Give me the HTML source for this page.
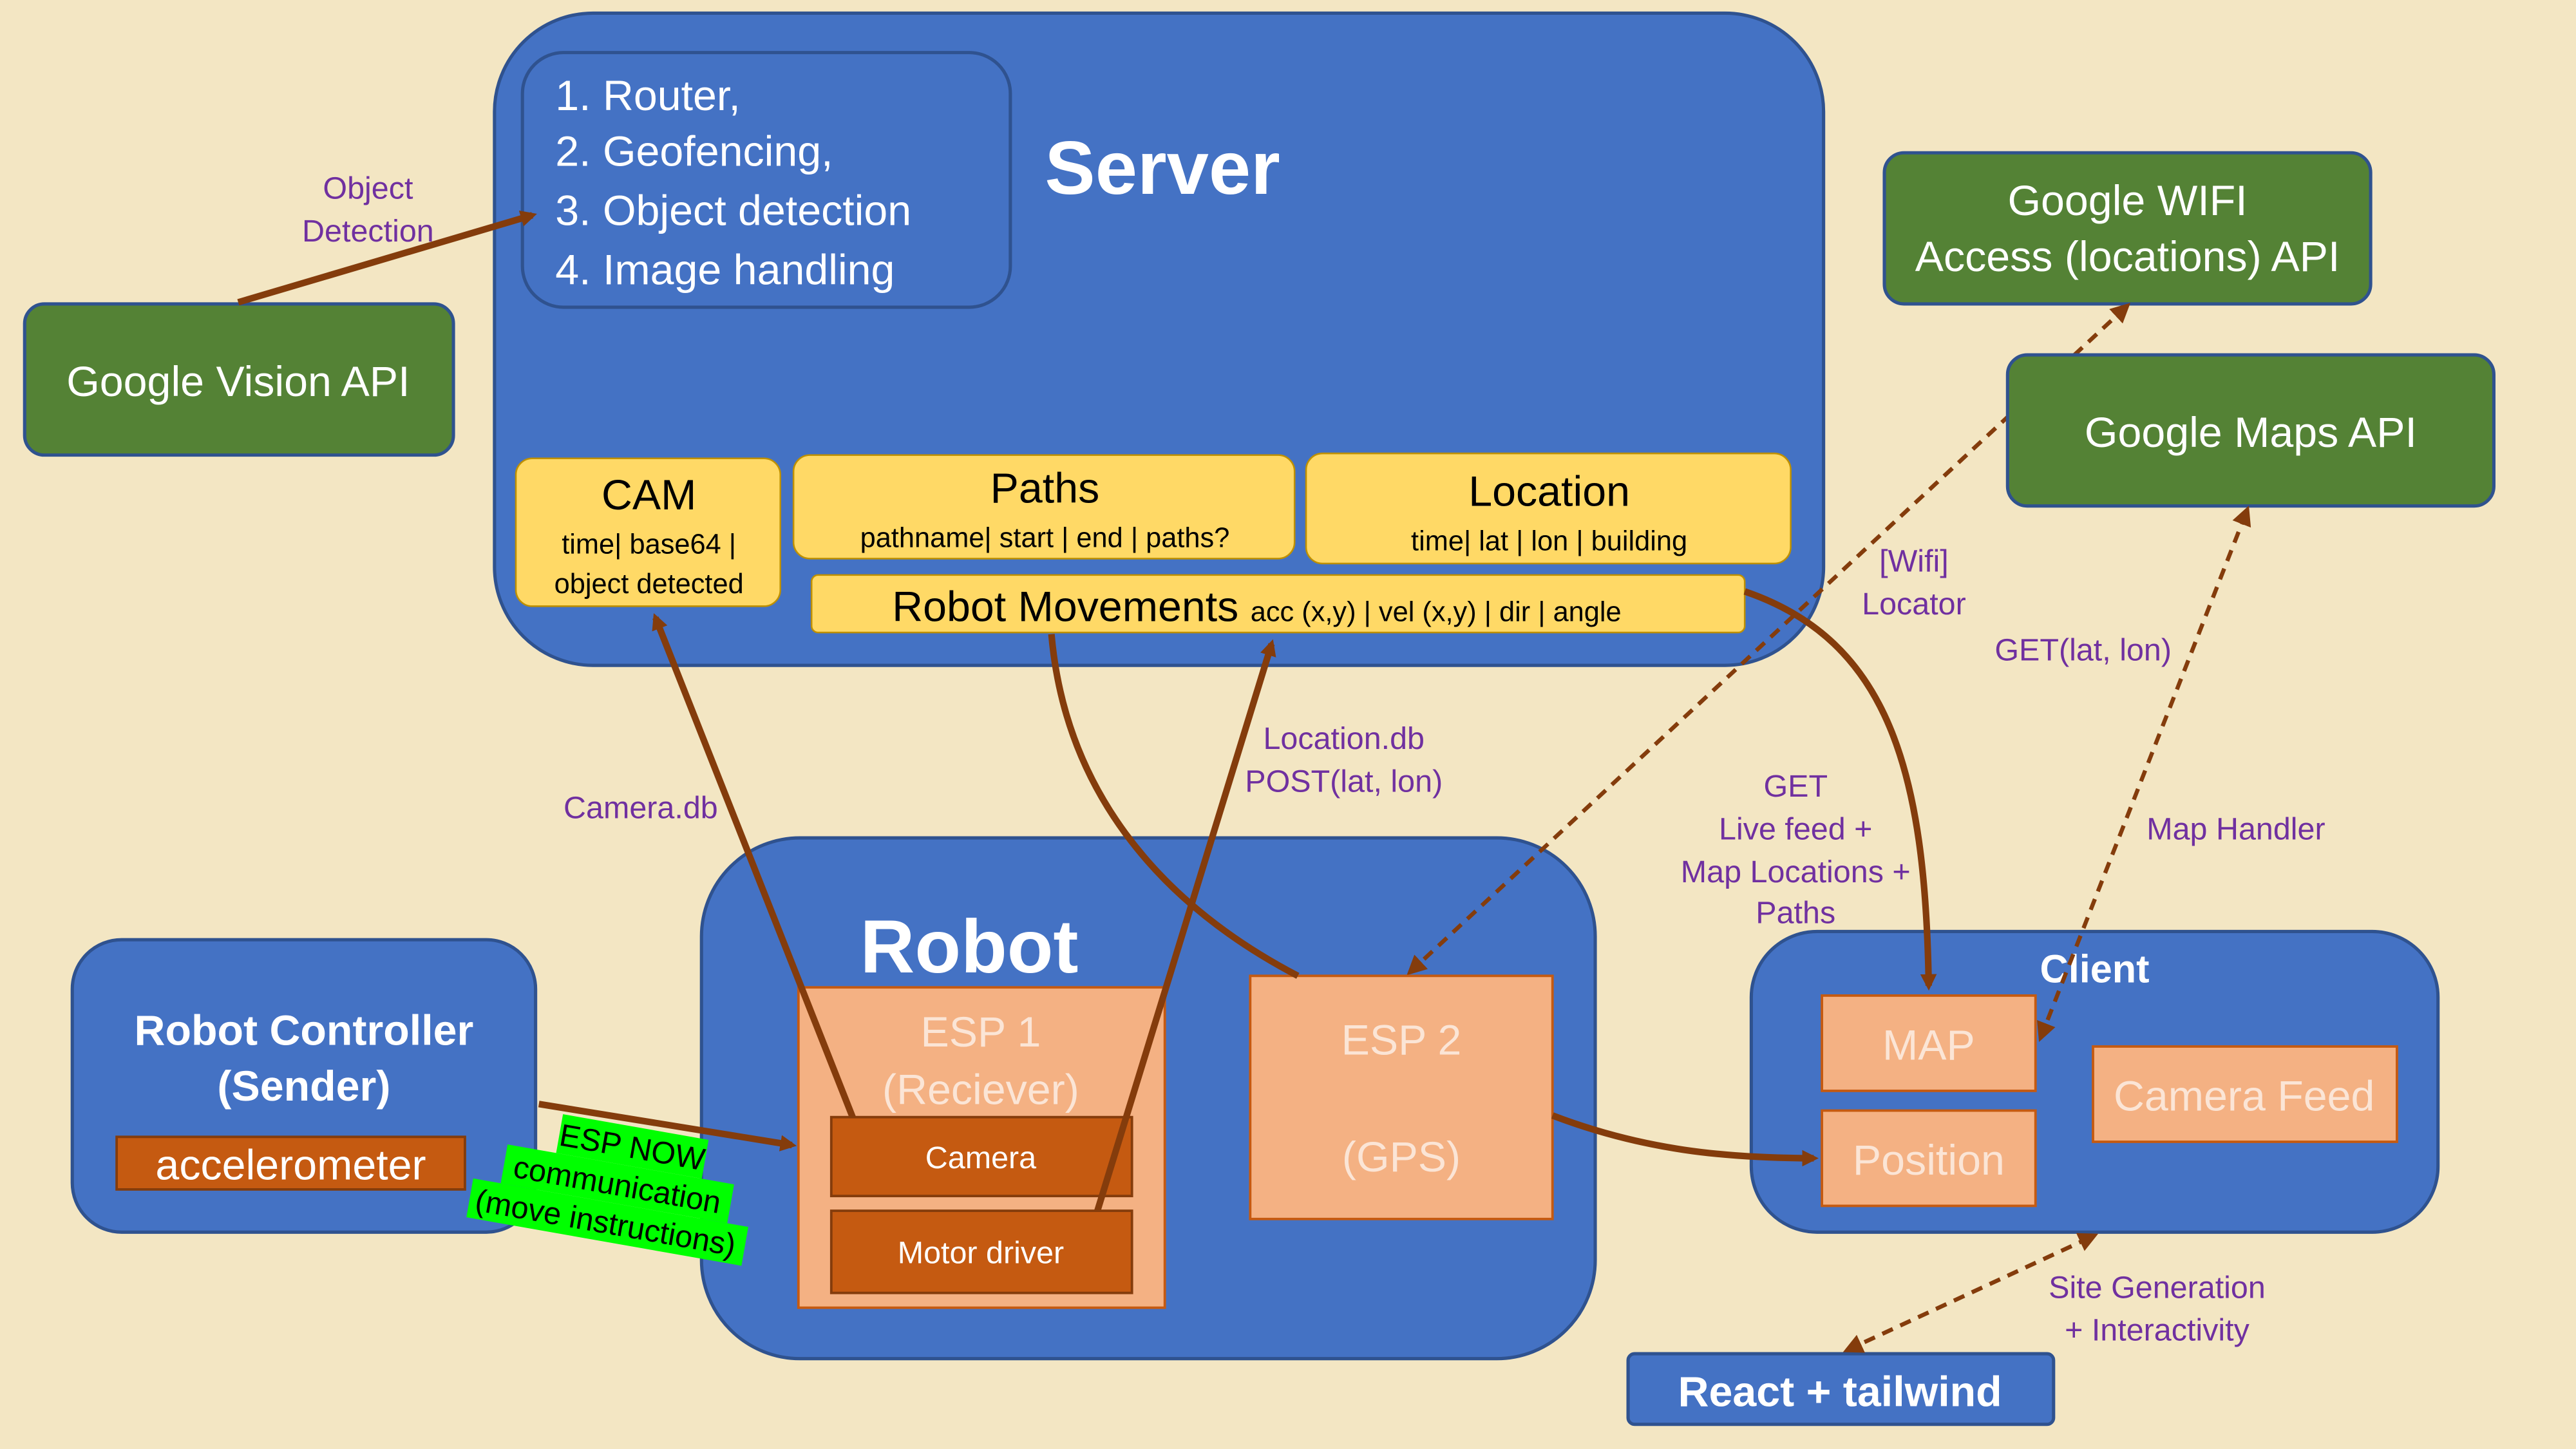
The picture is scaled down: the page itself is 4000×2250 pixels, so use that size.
<!DOCTYPE html>
<html><head><meta charset="utf-8"><style>
html,body{margin:0;padding:0;width:4000px;height:2250px;overflow:hidden;background:#f3e6c3}
svg{display:block}
text{font-family:"Liberation Sans","DejaVu Sans",sans-serif}
</style></head><body>
<svg width="4000" height="2250" viewBox="0 0 1568 882" xmlns="http://www.w3.org/2000/svg">
<defs>
<marker id="ab" markerWidth="10" markerHeight="10" refX="7" refY="5" orient="auto" markerUnits="userSpaceOnUse" viewBox="0 0 10 10"><path d="M0,0 L10,5 L0,10 z" fill="#843c0c"/></marker>
<marker id="abs" markerWidth="12" markerHeight="12" refX="8" refY="5" orient="auto-start-reverse" markerUnits="userSpaceOnUse" viewBox="0 0 10 10"><path d="M0,0 L10,5 L0,10 z" fill="#843c0c"/></marker>
</defs>
<rect width="1568" height="882" fill="#f3e6c3"/>
<g stroke="#2f528f" stroke-width="2" fill="#4472c4">
<rect x="301" y="8" width="809" height="397" rx="60"/>
<rect x="318" y="32" width="297" height="155" rx="25"/>
<rect x="427" y="510" width="544" height="317" rx="60"/>
<rect x="44" y="572" width="282" height="178" rx="30"/>
<rect x="1066" y="567" width="418" height="183" rx="40"/>
<rect x="991" y="824" width="259" height="43" rx="4"/>
</g>
<g fill="#fff" font-size="26">
<text x="338" y="67">1. Router,</text>
<text x="338" y="101">2. Geofencing,</text>
<text x="338" y="137">3. Object detection</text>
<text x="338" y="173">4. Image handling</text>
</g>
<text x="636" y="118" fill="#fff" font-size="46" font-weight="bold">Server</text>
<text x="590" y="592" fill="#fff" font-size="46" font-weight="bold" text-anchor="middle">Robot</text>
<g stroke="#2f528f" stroke-width="2" fill="#548235">
<rect x="15" y="185" width="261" height="92" rx="12"/>
<rect x="1147" y="93" width="296" height="92" rx="12"/>
</g>
<line x1="858" y1="592" x2="1295" y2="186" stroke="#843c0c" stroke-width="2.5" stroke-dasharray="7,5" marker-start="url(#abs)" marker-end="url(#abs)"/>
<rect x="1222" y="216" width="296" height="92" rx="12" fill="#548235" stroke="#2f528f" stroke-width="2"/>
<g fill="#fff" font-size="26" text-anchor="middle">
<text x="145" y="241">Google Vision API</text>
<text x="1295" y="131">Google WIFI</text>
<text x="1295" y="165">Access (locations) API</text>
<text x="1370" y="272">Google Maps API</text>
</g>
<g fill="#ffd966" stroke="#bf9000" stroke-width="1">
<rect x="314" y="279" width="161" height="90" rx="10"/>
<rect x="483" y="277" width="305" height="63" rx="10"/>
<rect x="795" y="276" width="295" height="67" rx="10"/>
<rect x="494" y="350" width="568" height="35" rx="4"/>
</g>
<g fill="#000" text-anchor="middle">
<text x="395" y="310" font-size="26">CAM</text>
<text x="395" y="337" font-size="17">time| base64 |</text>
<text x="395" y="361" font-size="17">object detected</text>
<text x="636" y="306" font-size="26">Paths</text>
<text x="636" y="333" font-size="17">pathname| start | end | paths?</text>
<text x="943" y="308" font-size="26">Location</text>
<text x="943" y="335" font-size="17">time| lat | lon | building</text>
</g>
<text x="543" y="378" font-size="26" fill="#000">Robot Movements <tspan font-size="17">acc (x,y) | vel (x,y) | dir | angle</tspan></text>
<rect x="486" y="601" width="223" height="195" fill="#f4b183" stroke="#c55a11" stroke-width="1.5"/>
<rect x="761" y="594" width="184" height="148" fill="#f4b183" stroke="#c55a11" stroke-width="1.5"/>
<g fill="#fbe5d6" font-size="26" text-anchor="middle">
<text x="597" y="637">ESP 1</text>
<text x="597" y="672">(Reciever)</text>
<text x="853" y="642">ESP 2</text>
<text x="853" y="713">(GPS)</text>
</g>
<g fill="#c55a11" stroke="#843c0c" stroke-width="1.5">
<rect x="506" y="680" width="183" height="48"/>
<rect x="506" y="737" width="183" height="50"/>
<rect x="71" y="692" width="212" height="32"/>
</g>
<g fill="#fff" text-anchor="middle">
<text x="597" y="711" font-size="19">Camera</text>
<text x="597" y="769" font-size="19">Motor driver</text>
<text x="177" y="718" font-size="26">accelerometer</text>
<text x="185" y="636" font-size="26" font-weight="bold">Robot Controller</text>
<text x="185" y="670" font-size="26" font-weight="bold">(Sender)</text>
<text x="1275" y="598" font-size="24" font-weight="bold">Client</text>
<text x="1120" y="856" font-size="26" font-weight="bold">React + tailwind</text>
</g>
<g fill="#f4b183" stroke="#c55a11" stroke-width="1.5">
<rect x="1109" y="606" width="130" height="58"/>
<rect x="1109" y="676" width="130" height="58"/>
<rect x="1274" y="637" width="185" height="58"/>
</g>
<g fill="#fbe5d6" font-size="26" text-anchor="middle">
<text x="1174" y="645">MAP</text>
<text x="1174" y="715">Position</text>
<text x="1366" y="676">Camera Feed</text>
</g>
<g stroke="#843c0c" stroke-width="4" fill="none">
<line x1="145" y1="184" x2="324" y2="131" marker-end="url(#ab)"/>
<line x1="519" y1="680" x2="399" y2="376" marker-end="url(#ab)"/>
<line x1="668" y1="737" x2="774" y2="392" marker-end="url(#ab)"/>
<path d="M640,386 C648,478 702,548 790,594"/>
<path d="M1062,360 C1150,390 1172,470 1174,600" marker-end="url(#ab)"/>
<path d="M945,679 C1000,700 1050,705 1104,705" marker-end="url(#ab)"/>
<line x1="328" y1="672" x2="482" y2="697" marker-end="url(#ab)"/>
</g>
<g stroke="#843c0c" stroke-width="2.5" fill="none" stroke-dasharray="7,5">
<line x1="1242" y1="632" x2="1368" y2="310" marker-start="url(#abs)" marker-end="url(#abs)"/>
<line x1="1124" y1="822" x2="1275" y2="752" marker-start="url(#abs)" marker-end="url(#abs)"/>
</g>
<g transform="rotate(10 372 725)">
<rect x="335" y="684" width="90" height="24" fill="#00ff00"/>
<rect x="305" y="708" width="140" height="24" fill="#00ff00"/>
<rect x="288" y="732" width="170" height="24" fill="#00ff00"/>
<g fill="#000" font-size="19" text-anchor="middle">
<text x="380" y="703">ESP NOW</text>
<text x="375" y="727">communication</text>
<text x="372" y="751">(move instructions)</text>
</g>
</g>
<g fill="#7030a0" font-size="19" text-anchor="middle">
<text x="224" y="121">Object</text>
<text x="224" y="147">Detection</text>
<text x="390" y="498">Camera.db</text>
<text x="818" y="456">Location.db</text>
<text x="818" y="482">POST(lat, lon)</text>
<text x="1093" y="485">GET</text>
<text x="1093" y="511">Live feed +</text>
<text x="1093" y="537">Map Locations +</text>
<text x="1093" y="562">Paths</text>
<text x="1165" y="348">[Wifi]</text>
<text x="1165" y="374">Locator</text>
<text x="1268" y="402">GET(lat, lon)</text>
<text x="1361" y="511">Map Handler</text>
<text x="1313" y="790">Site Generation</text>
<text x="1313" y="816">+ Interactivity</text>
</g>
</svg>
</body></html>
